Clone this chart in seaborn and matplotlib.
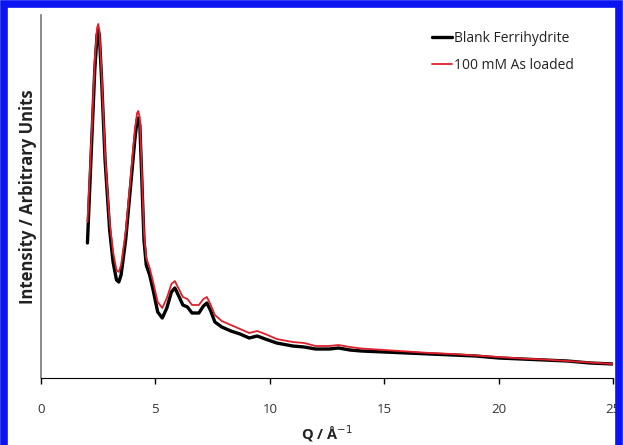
import numpy as np
import pandas as pd
import matplotlib
matplotlib.use("Agg")
import matplotlib.pyplot as plt
from matplotlib.patches import Rectangle
import seaborn as sns

q = [2.03, 2.2, 2.35, 2.45, 2.5, 2.55, 2.65, 2.8, 3.0, 3.15, 3.3, 3.4, 3.5,
     3.7, 3.9, 4.1, 4.2, 4.25, 4.32, 4.4, 4.5, 4.6, 4.75, 4.9, 5.1, 5.3,
     5.5, 5.7, 5.85, 6.0, 6.2, 6.4, 6.6, 6.9, 7.1, 7.25, 7.4, 7.6, 7.9,
     8.3, 8.7, 9.1, 9.45, 9.8, 10.3, 11.0, 11.5, 12.0, 12.6, 13.0, 13.5,
     14.0, 15.0, 16.0, 17.0, 18.0, 19.0, 20.0, 21.0, 22.0, 23.0, 24.0, 25.0]

blank = [135, 228, 308, 343, 348, 343, 298, 218, 148, 116, 98, 96, 103,
         138, 188, 238, 258, 260, 253, 203, 138, 113, 103, 88, 66, 60,
         70, 86, 90, 83, 73, 71, 65, 65, 72, 75, 68, 56, 51,
         47, 44, 40, 42, 39, 35, 32, 31, 29, 29, 30, 28,
         27, 26, 25, 24, 23, 22, 20, 19, 18, 17, 15, 14]

loaded = [156, 238, 318, 350, 354, 348, 303, 223, 156, 126, 108, 106, 113,
          146, 196, 248, 265, 267, 260, 210, 146, 120, 110, 96, 76, 70,
          80, 94, 97, 90, 81, 79, 73, 73, 79, 81, 74, 63, 57,
          53, 49, 45, 47, 44, 39, 36, 35, 32, 32, 33, 31,
          29.5, 28, 26.5, 25, 24, 22.5, 21, 19.5, 18.5, 17, 15.5, 14]

series_names = ["Blank Ferrihydrite", "100 mM As loaded"]

df = pd.concat([
    pd.DataFrame({"Q": q, "I": blank, "sample": series_names[0]}),
    pd.DataFrame({"Q": q, "I": loaded, "sample": series_names[1]}),
])

sns.set_style("white")
plt.rcParams["font.family"] = ["Open Sans", "DejaVu Sans"]

fig = plt.figure(figsize=(6.23, 4.45), dpi=100)
ax = fig.add_axes([41 / 623, 67 / 445, 572 / 623, 363 / 445])

sns.lineplot(data=df, x="Q", y="I", hue="sample", size="sample",
             palette={series_names[0]: "black", series_names[1]: "#e0202a"},
             sizes={series_names[0]: 2.4, series_names[1]: 1.3},
             ax=ax, legend=True)

ax.set_xlim(0, 25)
ax.set_ylim(0, 363)
ax.set_xticks([0, 5, 10, 15, 20, 25])
ax.set_yticks([])
ax.tick_params(axis="x", direction="out", length=4, width=1, color="black",
               labelsize=9.5, labelcolor="#333333", pad=14, bottom=True)
for s in ["top", "right"]:
    ax.spines[s].set_visible(False)
ax.spines["bottom"].set_color("black")
ax.spines["left"].set_color("#777777")
ax.spines["left"].set_linewidth(1.2)

ax.set_xlabel("Q / Å$^{-1}$", fontsize=10.5, fontweight="bold", color="#222222", labelpad=5)
ax.set_ylabel("Intensity / Arbitrary Units", fontsize=12, fontweight="bold",
              color="#222222", labelpad=3)

leg = ax.legend(loc="upper left", bbox_to_anchor=(432 / 623, 1 - 31 / 445),
                bbox_transform=fig.transFigure, frameon=False, borderpad=0,
                borderaxespad=0, fontsize=10, handlelength=1.45,
                handletextpad=0.15, labelspacing=0.85)
for t in leg.get_texts():
    t.set_color("#222222")

fig.patches.append(Rectangle((4 / 623, -0.05), 615 / 623, 1.05 - 3.5 / 445,
                             transform=fig.transFigure, fill=False,
                             edgecolor="#0a14f0", linewidth=5.5))

fig.savefig("out.png", dpi=100)
